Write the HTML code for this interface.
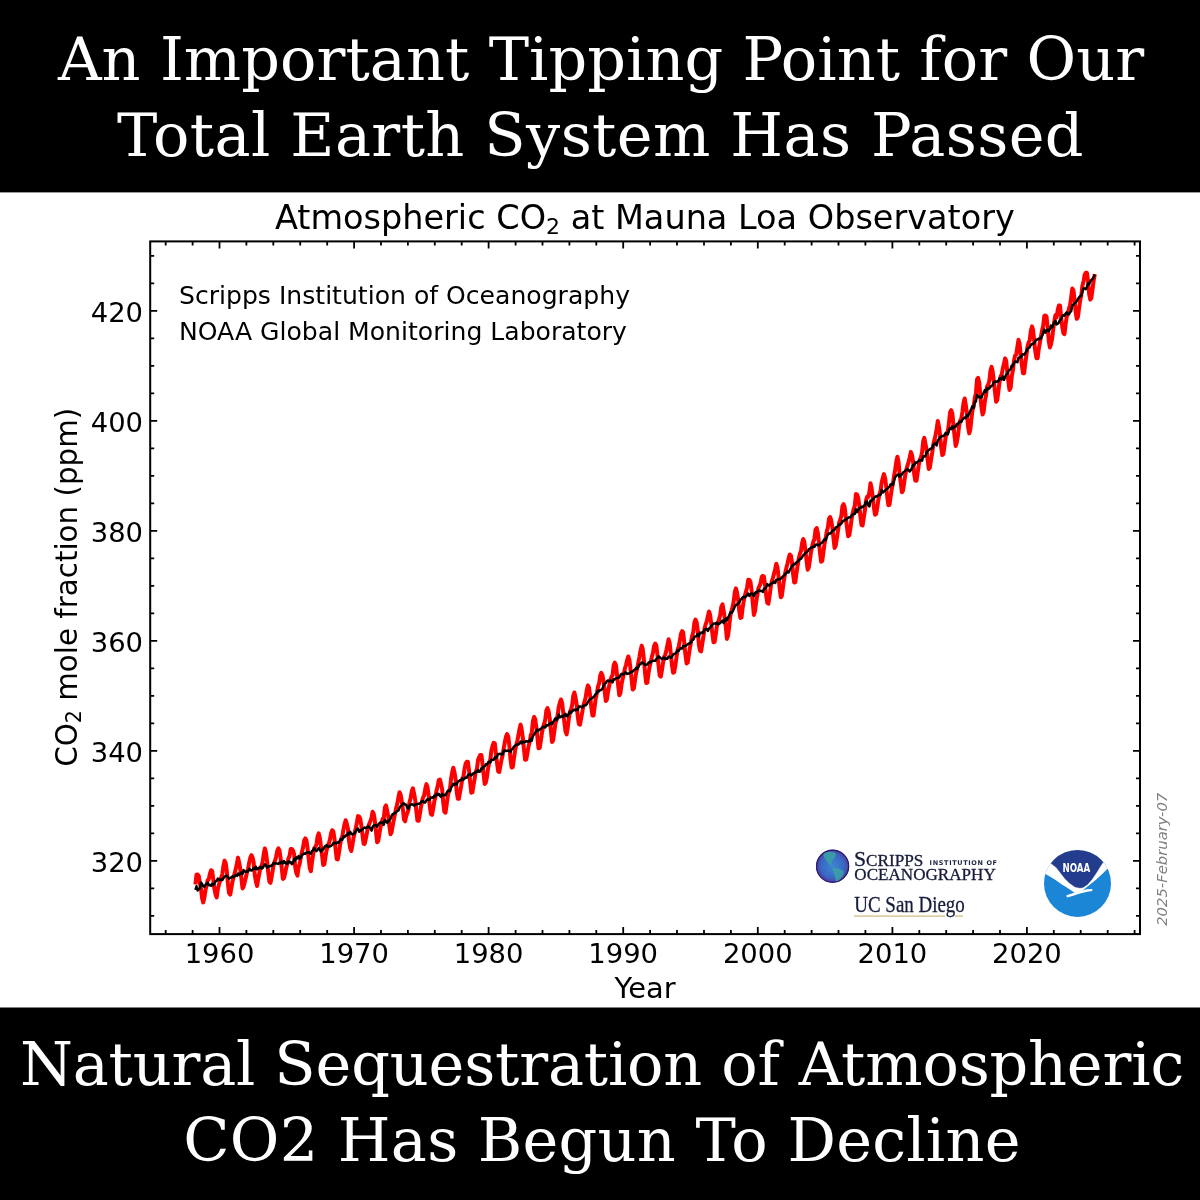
<!DOCTYPE html>
<html><head><meta charset="utf-8"><title>Atmospheric CO2 at Mauna Loa Observatory</title>
<style>html,body{margin:0;padding:0;width:1200px;height:1200px;overflow:hidden;background:#fff}svg{display:block}</style>
</head><body>
<svg width="1200" height="1200" viewBox="0 0 1200 1200">
<rect x="0" y="0" width="1200" height="1200" fill="#fff"/>
<rect x="0" y="0" width="1200" height="192.4" fill="#000"/>
<rect x="0" y="1007.5" width="1200" height="192.5" fill="#000"/>
<g font-family="'DejaVu Serif', serif" font-size="60.5" fill="#fff" text-anchor="middle">
<text x="601" y="79.7" letter-spacing="0.05">An Important Tipping Point for Our</text>
<text x="600.5" y="155.8" letter-spacing="0.38">Total Earth System Has Passed</text>
<text x="602" y="1084.7" letter-spacing="-0.18">Natural Sequestration of Atmospheric</text>
<text x="602" y="1161.2" letter-spacing="0.23">CO2 Has Begun To Decline</text>
</g>
<g font-family="'DejaVu Sans', sans-serif" fill="#000">
<text x="644.9" y="228.6" font-size="33.5" text-anchor="middle">Atmospheric CO<tspan font-size="22" dy="5">2</tspan><tspan dy="-5"> at Mauna Loa Observatory</tspan></text>
<g font-size="27.4" text-anchor="middle"><text x="219.5" y="962.5">1960</text><text x="354.1" y="962.5">1970</text><text x="488.6" y="962.5">1980</text><text x="623.2" y="962.5">1990</text><text x="757.8" y="962.5">2000</text><text x="892.4" y="962.5">2010</text><text x="1026.9" y="962.5">2020</text></g>
<g font-size="27.4" text-anchor="end"><text x="143" y="871.8">320</text><text x="143" y="761.8">340</text><text x="143" y="651.8">360</text><text x="143" y="541.8">380</text><text x="143" y="431.8">400</text><text x="143" y="321.8">420</text></g>
<text x="645" y="998.3" font-size="28.9" text-anchor="middle">Year</text>
<text transform="translate(76.7,766.8) rotate(-90)" font-size="29.36">CO<tspan font-size="20.6" dy="4.5">2</tspan><tspan dy="-4.5"> mole fraction (ppm)</tspan></text>
<g font-size="25.1"><text x="179" y="304.2">Scripps Institution of Oceanography</text><text x="179" y="339.8">NOAA Global Monitoring Laboratory</text></g>
<text transform="translate(1166.5,859.3) rotate(-90)" font-size="14.8" font-style="italic" fill="#808080" text-anchor="middle">2025-February-07</text>
</g>
<path d="M195.4,884.5 L196.5,874.8 L197.6,874.5 L198.8,876.0 L199.9,883.6 L201.0,888.7 L202.1,898.2 L203.2,902.4 L204.4,897.5 L205.5,890.1 L206.6,885.1 L207.7,880.2 L208.8,879.2 L210.0,873.3 L211.1,870.2 L212.2,871.0 L213.3,879.8 L214.5,889.4 L215.6,894.7 L216.7,897.5 L217.8,889.3 L218.9,885.1 L220.1,880.4 L221.2,877.4 L222.3,874.1 L223.4,866.1 L224.5,860.6 L225.7,863.1 L226.8,870.8 L227.9,883.4 L229.0,892.9 L230.2,894.7 L231.3,888.3 L232.4,881.8 L233.5,877.9 L234.6,873.5 L235.8,868.8 L236.9,863.7 L238.0,857.6 L239.1,862.1 L240.2,868.7 L241.4,878.5 L242.5,888.4 L243.6,886.6 L244.7,882.3 L245.9,877.3 L247.0,872.1 L248.1,868.8 L249.2,862.6 L250.3,857.7 L251.5,855.2 L252.6,857.4 L253.7,863.0 L254.8,875.1 L255.9,881.4 L257.1,886.0 L258.2,879.0 L259.3,873.5 L260.4,867.7 L261.6,865.9 L262.7,861.6 L263.8,853.2 L264.9,848.4 L266.0,852.7 L267.2,862.2 L268.3,873.1 L269.4,881.7 L270.5,882.9 L271.6,876.9 L272.8,869.9 L273.9,863.2 L275.0,860.7 L276.1,856.7 L277.3,850.7 L278.4,848.4 L279.5,850.4 L280.6,858.4 L281.7,868.0 L282.9,878.9 L284.0,878.0 L285.1,873.6 L286.2,867.9 L287.3,863.9 L288.5,858.4 L289.6,855.9 L290.7,849.0 L291.8,848.9 L293.0,850.5 L294.1,854.1 L295.2,867.0 L296.3,872.8 L297.4,875.6 L298.6,867.0 L299.7,864.0 L300.8,857.4 L301.9,852.0 L303.0,847.7 L304.2,840.4 L305.3,838.4 L306.4,840.2 L307.5,847.7 L308.7,858.8 L309.8,868.3 L310.9,871.2 L312.0,862.0 L313.1,855.1 L314.3,848.0 L315.4,847.1 L316.5,844.1 L317.6,836.5 L318.7,833.3 L319.9,838.3 L321.0,846.8 L322.1,855.7 L323.2,864.9 L324.4,864.2 L325.5,856.8 L326.6,850.0 L327.7,846.7 L328.8,843.5 L330.0,839.4 L331.1,833.2 L332.2,830.2 L333.3,831.3 L334.4,838.0 L335.6,849.2 L336.7,859.0 L337.8,859.4 L338.9,853.5 L340.1,844.9 L341.2,838.8 L342.3,836.5 L343.4,829.8 L344.5,824.2 L345.7,820.2 L346.8,823.9 L347.9,828.5 L349.0,840.7 L350.1,847.7 L351.3,851.0 L352.4,845.1 L353.5,838.1 L354.6,833.0 L355.8,827.9 L356.9,822.7 L358.0,816.1 L359.1,816.4 L360.2,818.6 L361.4,825.9 L362.5,835.0 L363.6,843.8 L364.7,843.9 L365.8,838.8 L367.0,832.6 L368.1,826.9 L369.2,824.1 L370.3,821.3 L371.5,818.0 L372.6,811.7 L373.7,813.7 L374.8,820.4 L375.9,830.8 L377.1,842.3 L378.2,841.2 L379.3,834.4 L380.4,827.7 L381.5,823.6 L382.7,818.8 L383.8,818.2 L384.9,807.3 L386.0,805.4 L387.2,810.8 L388.3,816.6 L389.4,826.0 L390.5,834.2 L391.6,832.2 L392.8,825.0 L393.9,819.3 L395.0,813.8 L396.1,808.2 L397.2,804.1 L398.4,797.5 L399.5,792.2 L400.6,794.4 L401.7,801.0 L402.9,809.6 L404.0,819.5 L405.1,821.3 L406.2,815.9 L407.3,813.3 L408.5,809.4 L409.6,801.9 L410.7,797.7 L411.8,791.2 L412.9,788.3 L414.1,793.7 L415.2,799.9 L416.3,810.5 L417.4,820.5 L418.6,820.8 L419.7,815.1 L420.8,808.1 L421.9,801.8 L423.0,797.8 L424.2,795.1 L425.3,788.7 L426.4,784.1 L427.5,787.0 L428.6,795.0 L429.8,806.1 L430.9,814.0 L432.0,814.8 L433.1,809.2 L434.3,801.5 L435.4,797.1 L436.5,790.7 L437.6,786.5 L438.7,780.3 L439.9,779.6 L441.0,783.8 L442.1,789.0 L443.2,802.1 L444.3,811.6 L445.5,812.7 L446.6,805.0 L447.7,796.9 L448.8,791.2 L450.0,788.6 L451.1,778.6 L452.2,772.1 L453.3,767.7 L454.4,771.9 L455.6,779.0 L456.7,791.7 L457.8,798.7 L458.9,798.8 L460.0,792.3 L461.2,786.0 L462.3,778.6 L463.4,776.9 L464.5,769.2 L465.7,763.5 L466.8,761.7 L467.9,761.8 L469.0,770.1 L470.1,781.5 L471.3,792.8 L472.4,792.3 L473.5,785.1 L474.6,778.8 L475.7,772.0 L476.9,769.0 L478.0,760.3 L479.1,757.3 L480.2,755.0 L481.4,754.9 L482.5,764.3 L483.6,774.3 L484.7,783.9 L485.8,782.5 L487.0,776.5 L488.1,768.3 L489.2,762.4 L490.3,759.9 L491.4,750.4 L492.6,745.7 L493.7,742.8 L494.8,743.3 L495.9,753.8 L497.1,763.6 L498.2,771.4 L499.3,772.0 L500.4,765.7 L501.5,760.2 L502.7,754.7 L503.8,747.8 L504.9,741.8 L506.0,736.5 L507.1,734.1 L508.3,736.8 L509.4,746.3 L510.5,759.2 L511.6,767.6 L512.8,767.0 L513.9,758.6 L515.0,751.3 L516.1,745.7 L517.2,741.1 L518.4,735.5 L519.5,729.0 L520.6,724.6 L521.7,729.5 L522.8,737.5 L524.0,749.5 L525.1,759.7 L526.2,759.5 L527.3,753.9 L528.5,746.5 L529.6,742.2 L530.7,735.5 L531.8,732.3 L532.9,721.1 L534.1,717.0 L535.2,719.1 L536.3,727.0 L537.4,737.0 L538.5,748.3 L539.7,747.9 L540.8,741.0 L541.9,733.2 L543.0,727.6 L544.2,723.7 L545.3,719.6 L546.4,710.3 L547.5,708.0 L548.6,711.4 L549.8,718.9 L550.9,730.2 L552.0,742.0 L553.1,740.6 L554.2,732.6 L555.4,723.3 L556.5,720.4 L557.6,715.2 L558.7,707.0 L559.8,702.9 L561.0,699.5 L562.1,702.9 L563.2,712.5 L564.3,721.6 L565.5,731.4 L566.6,734.4 L567.7,727.7 L568.8,718.7 L569.9,711.9 L571.1,709.5 L572.2,704.5 L573.3,695.7 L574.4,692.5 L575.5,697.4 L576.7,705.1 L577.8,717.0 L578.9,724.1 L580.0,724.7 L581.2,717.9 L582.3,712.0 L583.4,705.5 L584.5,701.6 L585.6,697.9 L586.8,689.9 L587.9,685.4 L589.0,687.7 L590.1,695.5 L591.2,706.2 L592.4,715.5 L593.5,715.4 L594.6,706.9 L595.7,698.7 L596.9,693.1 L598.0,686.6 L599.1,683.5 L600.2,675.7 L601.3,672.8 L602.5,675.6 L603.6,681.6 L604.7,691.3 L605.8,701.0 L606.9,699.5 L608.1,691.4 L609.2,685.9 L610.3,680.3 L611.4,677.2 L612.6,675.0 L613.7,665.0 L614.8,662.5 L615.9,665.2 L617.0,674.2 L618.2,685.8 L619.3,695.2 L620.4,693.2 L621.5,684.7 L622.6,679.2 L623.8,674.1 L624.9,668.5 L626.0,665.0 L627.1,660.1 L628.3,656.5 L629.4,659.8 L630.5,669.0 L631.6,679.6 L632.7,689.6 L633.9,688.4 L635.0,680.4 L636.1,672.7 L637.2,668.5 L638.3,662.7 L639.5,656.6 L640.6,650.1 L641.7,645.6 L642.8,649.3 L644.0,660.5 L645.1,673.3 L646.2,683.1 L647.3,682.8 L648.4,673.9 L649.6,666.9 L650.7,662.1 L651.8,657.1 L652.9,653.0 L654.0,646.2 L655.2,643.5 L656.3,645.3 L657.4,654.5 L658.5,665.3 L659.7,675.5 L660.8,676.6 L661.9,670.3 L663.0,663.2 L664.1,656.9 L665.3,654.6 L666.4,650.2 L667.5,644.6 L668.6,639.3 L669.7,643.1 L670.9,654.5 L672.0,665.5 L673.1,672.8 L674.2,672.2 L675.4,665.2 L676.5,657.3 L677.6,649.7 L678.7,646.6 L679.8,640.8 L681.0,633.7 L682.1,631.2 L683.2,632.4 L684.3,643.0 L685.4,654.6 L686.6,663.5 L687.7,662.7 L688.8,655.1 L689.9,648.1 L691.1,641.4 L692.2,635.6 L693.3,632.0 L694.4,622.4 L695.5,619.5 L696.7,622.5 L697.8,630.9 L698.9,645.2 L700.0,650.7 L701.1,651.4 L702.3,643.6 L703.4,636.9 L704.5,628.8 L705.6,624.6 L706.8,621.2 L707.9,616.2 L709.0,611.5 L710.1,614.8 L711.2,623.5 L712.4,633.7 L713.5,642.3 L714.6,641.9 L715.7,634.9 L716.8,626.6 L718.0,622.9 L719.1,619.1 L720.2,615.2 L721.3,606.8 L722.5,604.3 L723.6,610.3 L724.7,617.7 L725.8,627.1 L726.9,638.9 L728.1,635.6 L729.2,626.5 L730.3,616.3 L731.4,611.4 L732.5,607.0 L733.7,601.4 L734.8,592.3 L735.9,588.4 L737.0,592.3 L738.2,600.3 L739.3,611.3 L740.4,618.0 L741.5,617.5 L742.6,608.1 L743.8,600.5 L744.9,595.5 L746.0,591.5 L747.1,587.4 L748.2,579.7 L749.4,579.9 L750.5,581.9 L751.6,590.4 L752.7,602.4 L753.9,615.0 L755.0,611.3 L756.1,602.5 L757.2,596.0 L758.3,588.9 L759.5,585.8 L760.6,583.4 L761.7,577.0 L762.8,575.9 L763.9,576.5 L765.1,585.6 L766.2,595.8 L767.3,602.9 L768.4,603.7 L769.6,596.0 L770.7,587.4 L771.8,581.4 L772.9,578.0 L774.0,573.7 L775.2,568.9 L776.3,563.7 L777.4,567.1 L778.5,576.0 L779.6,588.1 L780.8,597.3 L781.9,595.6 L783.0,586.9 L784.1,579.3 L785.3,572.4 L786.4,567.8 L787.5,563.4 L788.6,558.4 L789.7,554.5 L790.9,555.5 L792.0,562.6 L793.1,574.2 L794.2,582.6 L795.3,582.1 L796.5,573.3 L797.6,565.9 L798.7,558.9 L799.8,554.1 L801.0,551.1 L802.1,543.0 L803.2,539.0 L804.3,541.8 L805.4,549.9 L806.6,560.7 L807.7,569.7 L808.8,567.5 L809.9,560.1 L811.0,552.1 L812.2,546.3 L813.3,541.6 L814.4,539.3 L815.5,529.9 L816.7,528.0 L817.8,532.7 L818.9,542.0 L820.0,552.8 L821.1,561.8 L822.3,560.7 L823.4,552.2 L824.5,543.8 L825.6,538.7 L826.7,531.7 L827.9,527.2 L829.0,518.8 L830.1,517.0 L831.2,520.2 L832.4,527.7 L833.5,538.2 L834.6,548.0 L835.7,545.6 L836.8,538.7 L838.0,530.8 L839.1,523.0 L840.2,519.7 L841.3,516.2 L842.4,506.3 L843.6,504.2 L844.7,507.5 L845.8,517.0 L846.9,526.7 L848.1,536.3 L849.2,535.3 L850.3,529.2 L851.4,520.8 L852.5,513.8 L853.7,509.0 L854.8,506.0 L855.9,494.1 L857.0,494.5 L858.1,497.4 L859.3,505.5 L860.4,516.4 L861.5,525.0 L862.6,525.5 L863.8,517.6 L864.9,510.4 L866.0,500.5 L867.1,496.8 L868.2,496.9 L869.4,492.0 L870.5,483.2 L871.6,488.2 L872.7,496.4 L873.8,506.6 L875.0,514.7 L876.1,514.1 L877.2,508.2 L878.3,500.2 L879.5,494.1 L880.6,490.6 L881.7,482.3 L882.8,478.1 L883.9,474.1 L885.1,478.0 L886.2,486.6 L887.3,497.2 L888.4,505.2 L889.5,504.8 L890.7,496.1 L891.8,488.9 L892.9,483.9 L894.0,476.3 L895.2,469.4 L896.3,461.8 L897.4,456.8 L898.5,461.8 L899.6,473.6 L900.8,483.2 L901.9,492.3 L903.0,490.6 L904.1,483.3 L905.2,475.5 L906.4,469.3 L907.5,465.4 L908.6,461.8 L909.7,457.5 L910.9,451.9 L912.0,454.9 L913.1,461.9 L914.2,474.1 L915.3,480.6 L916.5,480.7 L917.6,473.2 L918.7,465.4 L919.8,459.6 L920.9,457.5 L922.1,452.2 L923.2,441.2 L924.3,437.9 L925.4,443.3 L926.6,449.8 L927.7,460.5 L928.8,469.0 L929.9,467.5 L931.0,459.9 L932.2,452.6 L933.3,444.7 L934.4,439.9 L935.5,435.2 L936.6,429.4 L937.8,421.0 L938.9,426.1 L940.0,434.7 L941.1,446.8 L942.3,455.1 L943.4,454.1 L944.5,446.0 L945.6,437.2 L946.7,433.2 L947.9,430.9 L949.0,422.2 L950.1,412.2 L951.2,410.2 L952.3,413.2 L953.5,425.8 L954.6,436.6 L955.7,446.0 L956.8,442.5 L958.0,435.3 L959.1,426.1 L960.2,420.4 L961.3,418.8 L962.4,411.8 L963.6,402.3 L964.7,398.5 L965.8,404.9 L966.9,413.1 L968.0,426.2 L969.2,433.4 L970.3,429.7 L971.4,419.4 L972.5,410.1 L973.7,406.3 L974.8,397.7 L975.9,393.5 L977.0,379.4 L978.1,377.9 L979.3,382.8 L980.4,396.1 L981.5,407.8 L982.6,414.6 L983.7,411.6 L984.9,400.8 L986.0,395.9 L987.1,386.3 L988.2,384.7 L989.4,380.5 L990.5,370.5 L991.6,366.9 L992.7,371.4 L993.8,381.1 L995.0,392.0 L996.1,401.7 L997.2,400.3 L998.3,392.1 L999.4,382.8 L1000.6,376.5 L1001.7,374.5 L1002.8,368.5 L1003.9,363.9 L1005.1,358.4 L1006.2,360.9 L1007.3,372.3 L1008.4,381.8 L1009.5,389.9 L1010.7,387.5 L1011.8,376.1 L1012.9,370.4 L1014.0,360.6 L1015.1,355.6 L1016.3,354.4 L1017.4,346.9 L1018.5,339.7 L1019.6,343.6 L1020.8,355.6 L1021.9,365.5 L1023.0,373.2 L1024.1,373.3 L1025.2,363.7 L1026.4,355.5 L1027.5,346.6 L1028.6,342.6 L1029.7,340.4 L1030.8,331.1 L1032.0,326.4 L1033.1,330.1 L1034.2,341.0 L1035.3,351.2 L1036.5,358.2 L1037.6,358.2 L1038.7,349.4 L1039.8,343.1 L1040.9,336.9 L1042.1,330.3 L1043.2,325.7 L1044.3,315.9 L1045.4,315.5 L1046.5,316.5 L1047.7,327.4 L1048.8,341.1 L1049.9,347.5 L1051.0,344.1 L1052.2,338.1 L1053.3,328.8 L1054.4,320.8 L1055.5,314.9 L1056.6,317.4 L1057.8,309.6 L1058.9,305.4 L1060.0,305.4 L1061.1,316.9 L1062.2,326.3 L1063.4,333.2 L1064.5,334.1 L1065.6,324.6 L1066.7,316.7 L1067.9,313.5 L1069.0,308.4 L1070.1,305.2 L1071.2,297.0 L1072.3,288.6 L1073.5,290.4 L1074.6,300.6 L1075.7,312.4 L1076.8,318.8 L1077.9,317.1 L1079.1,308.1 L1080.2,300.4 L1081.3,295.4 L1082.4,285.8 L1083.6,281.2 L1084.7,274.7 L1085.8,272.8 L1086.9,272.8 L1088.0,280.3 L1089.2,294.4 L1090.3,299.6 L1091.4,297.7 L1092.5,289.6 L1093.6,281.1 L1094.8,274.2" fill="none" stroke="#ff0000" stroke-width="4" stroke-linejoin="round"/>
<path d="M195.4,889.9 L196.5,886.3 L197.6,890.4 L198.8,888.9 L199.9,888.4 L201.0,882.6 L202.1,884.1 L203.2,886.2 L204.4,886.8 L205.5,884.8 L206.6,884.1 L207.7,882.7 L208.8,885.2 L210.0,885.0 L211.1,885.8 L212.2,883.7 L213.3,885.0 L214.5,883.3 L215.6,880.9 L216.7,881.0 L217.8,878.6 L218.9,879.7 L220.1,879.5 L221.2,879.7 L222.3,880.0 L223.4,878.2 L224.5,876.7 L225.7,876.0 L226.8,875.8 L227.9,877.0 L229.0,878.6 L230.2,878.0 L231.3,877.3 L232.4,876.4 L233.5,877.4 L234.6,875.9 L235.8,875.0 L236.9,875.9 L238.0,873.5 L239.1,875.0 L240.2,873.6 L241.4,872.3 L242.5,873.9 L243.6,870.1 L244.7,871.3 L245.9,871.9 L247.0,871.5 L248.1,871.5 L249.2,868.7 L250.3,869.9 L251.5,870.6 L252.6,869.9 L253.7,868.0 L254.8,868.8 L255.9,866.7 L257.1,869.4 L258.2,868.4 L259.3,867.8 L260.4,866.9 L261.6,868.5 L262.7,868.0 L263.8,865.9 L264.9,864.2 L266.0,865.4 L267.2,867.6 L268.3,866.8 L269.4,866.4 L270.5,865.7 L271.6,866.0 L272.8,864.3 L273.9,862.9 L275.0,863.6 L276.1,863.4 L277.3,863.6 L278.4,863.9 L279.5,862.5 L280.6,863.1 L281.7,861.6 L282.9,863.5 L284.0,861.1 L285.1,863.0 L286.2,862.7 L287.3,863.8 L288.5,861.2 L289.6,862.5 L290.7,862.0 L291.8,864.1 L293.0,862.8 L294.1,858.9 L295.2,860.5 L296.3,857.3 L297.4,858.3 L298.6,856.1 L299.7,858.9 L300.8,857.6 L301.9,854.9 L303.0,854.3 L304.2,853.5 L305.3,853.8 L306.4,852.4 L307.5,852.6 L308.7,852.3 L309.8,852.6 L310.9,853.8 L312.0,851.0 L313.1,850.1 L314.3,848.1 L315.4,850.3 L316.5,851.1 L317.6,849.7 L318.7,848.1 L319.9,850.1 L321.0,851.6 L322.1,849.4 L323.2,849.4 L324.4,847.1 L325.5,846.0 L326.6,845.1 L327.7,846.7 L328.8,846.7 L330.0,846.3 L331.1,845.8 L332.2,845.0 L333.3,843.2 L334.4,843.0 L335.6,842.8 L336.7,843.4 L337.8,842.2 L338.9,842.8 L340.1,840.1 L341.2,839.0 L342.3,839.8 L343.4,836.4 L344.5,837.1 L345.7,835.5 L346.8,835.6 L347.9,832.9 L349.0,834.3 L350.1,831.7 L351.3,834.0 L352.4,834.4 L353.5,833.7 L354.6,833.3 L355.8,831.2 L356.9,829.1 L358.0,828.6 L359.1,831.7 L360.2,830.3 L361.4,830.5 L362.5,829.2 L363.6,828.2 L364.7,827.5 L365.8,828.1 L367.0,827.6 L368.1,826.2 L369.2,827.3 L370.3,827.9 L371.5,830.6 L372.6,827.2 L373.7,825.4 L374.8,825.4 L375.9,825.0 L377.1,826.7 L378.2,824.6 L379.3,823.3 L380.4,822.4 L381.5,822.9 L382.7,822.3 L383.8,824.8 L384.9,820.0 L386.0,821.1 L387.2,822.6 L388.3,821.4 L389.4,820.1 L390.5,818.7 L391.6,815.7 L392.8,814.0 L393.9,813.9 L395.0,813.0 L396.1,812.1 L397.2,811.0 L398.4,810.6 L399.5,807.8 L400.6,806.1 L401.7,805.6 L402.9,803.4 L404.0,803.4 L405.1,804.6 L406.2,804.8 L407.3,807.9 L408.5,808.6 L409.6,805.3 L410.7,804.7 L411.8,804.3 L412.9,804.5 L414.1,805.7 L415.2,804.8 L416.3,804.0 L417.4,804.2 L418.6,803.7 L419.7,803.8 L420.8,802.5 L421.9,801.0 L423.0,801.0 L424.2,802.6 L425.3,802.5 L426.4,800.4 L427.5,799.2 L428.6,799.9 L429.8,799.4 L430.9,797.6 L432.0,797.5 L433.1,797.8 L434.3,795.7 L435.4,796.3 L436.5,793.7 L437.6,794.8 L438.7,793.9 L439.9,795.8 L441.0,796.7 L442.1,794.0 L443.2,795.4 L444.3,795.0 L445.5,795.2 L446.6,793.2 L447.7,791.1 L448.8,790.5 L450.0,791.3 L451.1,787.5 L452.2,786.0 L453.3,783.8 L454.4,784.9 L455.6,783.5 L456.7,784.4 L457.8,781.7 L458.9,781.0 L460.0,780.3 L461.2,780.3 L462.3,778.4 L463.4,779.8 L464.5,778.5 L465.7,777.6 L466.8,777.8 L467.9,775.2 L469.0,774.5 L470.1,773.7 L471.3,775.5 L472.4,774.3 L473.5,773.2 L474.6,773.3 L475.7,771.7 L476.9,771.9 L478.0,770.0 L479.1,771.7 L480.2,771.5 L481.4,768.3 L482.5,768.8 L483.6,766.5 L484.7,766.3 L485.8,764.3 L487.0,764.5 L488.1,762.5 L489.2,761.7 L490.3,762.5 L491.4,759.5 L492.6,760.1 L493.7,759.7 L494.8,757.4 L495.9,758.4 L497.1,756.2 L498.2,753.9 L499.3,754.1 L500.4,753.7 L501.5,754.5 L502.7,754.2 L503.8,750.7 L504.9,750.5 L506.0,751.0 L507.1,750.7 L508.3,750.8 L509.4,750.8 L510.5,751.9 L511.6,749.5 L512.8,748.8 L513.9,746.6 L515.0,746.0 L516.1,744.9 L517.2,744.3 L518.4,744.4 L519.5,743.6 L520.6,741.5 L521.7,743.3 L522.8,741.7 L524.0,742.3 L525.1,741.9 L526.2,741.1 L527.3,741.6 L528.5,741.3 L529.6,741.5 L530.7,738.7 L531.8,740.7 L532.9,736.0 L534.1,734.5 L535.2,732.8 L536.3,731.3 L537.4,729.6 L538.5,730.7 L539.7,729.5 L540.8,728.8 L541.9,727.8 L543.0,726.9 L544.2,727.1 L545.3,727.4 L546.4,725.0 L547.5,725.6 L548.6,724.9 L549.8,723.4 L550.9,722.8 L552.0,724.2 L553.1,721.9 L554.2,720.4 L555.4,718.3 L556.5,719.9 L557.6,718.7 L558.7,714.4 L559.8,717.4 L561.0,716.8 L562.1,716.0 L563.2,717.1 L564.3,714.7 L565.5,713.9 L566.6,716.2 L567.7,716.0 L568.8,713.8 L569.9,711.5 L571.1,712.9 L572.2,711.3 L573.3,710.3 L574.4,709.5 L575.5,710.4 L576.7,709.4 L577.8,710.0 L578.9,706.5 L580.0,706.6 L581.2,706.7 L582.3,707.4 L583.4,705.6 L584.5,705.4 L585.6,705.3 L586.8,704.1 L587.9,702.1 L589.0,700.4 L590.1,699.4 L591.2,698.7 L592.4,697.7 L593.5,697.2 L594.6,695.8 L595.7,694.2 L596.9,693.0 L598.0,690.5 L599.1,691.3 L600.2,689.9 L601.3,689.9 L602.5,688.7 L603.6,685.4 L604.7,683.4 L605.8,683.1 L606.9,681.2 L608.1,680.4 L609.2,681.2 L610.3,680.4 L611.4,681.2 L612.6,682.3 L613.7,679.2 L614.8,679.4 L615.9,678.4 L617.0,678.1 L618.2,677.9 L619.3,677.3 L620.4,675.2 L621.5,673.9 L622.6,674.5 L623.8,674.2 L624.9,672.6 L626.0,672.4 L627.1,673.9 L628.3,673.5 L629.4,673.1 L630.5,672.6 L631.6,671.6 L632.7,671.5 L633.9,670.3 L635.0,669.4 L636.1,668.1 L637.2,668.9 L638.3,666.9 L639.5,664.4 L640.6,664.2 L641.7,662.5 L642.8,662.9 L644.0,663.9 L645.1,665.0 L646.2,664.8 L647.3,664.6 L648.4,662.9 L649.6,662.1 L650.7,662.4 L651.8,661.2 L652.9,660.8 L654.0,660.7 L655.2,660.8 L656.3,659.2 L657.4,658.0 L658.5,656.3 L659.7,657.2 L660.8,658.1 L661.9,659.0 L663.0,658.2 L664.1,657.4 L665.3,659.1 L666.4,658.4 L667.5,658.7 L668.6,656.6 L669.7,656.9 L670.9,657.8 L672.0,656.6 L673.1,654.7 L674.2,653.8 L675.4,653.6 L676.5,652.5 L677.6,650.2 L678.7,650.8 L679.8,648.8 L681.0,648.1 L682.1,648.6 L683.2,645.9 L684.3,646.3 L685.4,645.8 L686.6,645.1 L687.7,644.1 L688.8,643.5 L689.9,643.6 L691.1,642.2 L692.2,639.8 L693.3,639.8 L694.4,636.8 L695.5,636.6 L696.7,635.6 L697.8,634.1 L698.9,636.4 L700.0,632.6 L701.1,633.1 L702.3,632.3 L703.4,632.7 L704.5,629.8 L705.6,628.9 L706.8,629.1 L707.9,630.9 L709.0,628.5 L710.1,627.6 L711.2,626.5 L712.4,624.6 L713.5,623.6 L714.6,623.6 L715.7,623.9 L716.8,622.6 L718.0,624.3 L719.1,623.7 L720.2,623.1 L721.3,621.5 L722.5,620.6 L723.6,622.9 L724.7,620.8 L725.8,618.2 L726.9,620.4 L728.1,617.4 L729.2,615.7 L730.3,612.6 L731.4,612.8 L732.5,611.7 L733.7,609.2 L734.8,606.6 L735.9,604.8 L737.0,604.7 L738.2,603.4 L739.3,602.3 L740.4,599.4 L741.5,599.2 L742.6,597.5 L743.8,597.0 L744.9,597.2 L746.0,596.3 L747.1,595.3 L748.2,593.5 L749.4,595.9 L750.5,594.1 L751.6,593.5 L752.7,593.7 L753.9,596.3 L755.0,593.1 L756.1,592.0 L757.2,592.6 L758.3,590.4 L759.5,590.4 L760.6,591.1 L761.7,591.0 L762.8,591.9 L763.9,588.8 L765.1,588.8 L766.2,587.1 L767.3,584.1 L768.4,585.5 L769.6,585.4 L770.7,583.9 L771.8,583.1 L772.9,582.9 L774.0,581.4 L775.2,583.0 L776.3,579.7 L777.4,579.6 L778.5,579.2 L779.6,579.3 L780.8,578.7 L781.9,577.4 L783.0,576.3 L784.1,575.5 L785.3,573.9 L786.4,573.0 L787.5,571.3 L788.6,572.5 L789.7,570.3 L790.9,568.0 L792.0,565.9 L793.1,565.5 L794.2,563.7 L795.3,563.9 L796.5,562.3 L797.6,561.8 L798.7,560.4 L799.8,559.2 L801.0,558.8 L802.1,557.1 L803.2,555.2 L804.3,554.4 L805.4,553.0 L806.6,552.1 L807.7,551.3 L808.8,549.4 L809.9,548.7 L811.0,547.7 L812.2,547.6 L813.3,546.6 L814.4,546.9 L815.5,544.8 L816.7,544.5 L817.8,545.3 L818.9,545.3 L820.0,544.2 L821.1,543.2 L822.3,542.4 L823.4,540.7 L824.5,539.2 L825.6,540.2 L826.7,537.0 L827.9,534.4 L829.0,533.3 L830.1,533.7 L831.2,532.6 L832.4,531.0 L833.5,530.0 L834.6,529.8 L835.7,527.5 L836.8,527.1 L838.0,526.1 L839.1,524.3 L840.2,524.7 L841.3,523.7 L842.4,521.1 L843.6,521.2 L844.7,519.9 L845.8,520.0 L846.9,518.3 L848.1,518.1 L849.2,517.1 L850.3,517.4 L851.4,516.0 L852.5,514.6 L853.7,513.9 L854.8,514.0 L855.9,509.3 L857.0,512.1 L858.1,510.1 L859.3,508.2 L860.4,507.8 L861.5,506.7 L862.6,507.3 L863.8,505.8 L864.9,505.5 L866.0,501.4 L867.1,501.6 L868.2,505.0 L869.4,506.4 L870.5,500.5 L871.6,500.9 L872.7,499.5 L873.8,498.2 L875.0,496.9 L876.1,496.2 L877.2,496.5 L878.3,495.3 L879.5,495.1 L880.6,494.8 L881.7,489.9 L882.8,492.5 L883.9,491.6 L885.1,490.5 L886.2,489.7 L887.3,488.7 L888.4,487.4 L889.5,486.8 L890.7,484.4 L891.8,483.9 L892.9,484.8 L894.0,480.6 L895.2,477.2 L896.3,475.8 L897.4,474.8 L898.5,474.4 L899.6,476.9 L900.8,474.6 L901.9,474.6 L903.0,472.5 L904.1,471.8 L905.2,470.8 L906.4,470.0 L907.5,469.1 L908.6,470.0 L909.7,471.5 L910.9,470.2 L912.0,467.9 L913.1,464.9 L914.2,465.2 L915.3,462.5 L916.5,462.8 L917.6,461.7 L918.7,460.9 L919.8,460.0 L920.9,460.6 L922.1,460.6 L923.2,456.2 L924.3,456.4 L925.4,456.2 L926.6,452.6 L927.7,450.9 L928.8,450.2 L929.9,449.2 L931.0,448.6 L932.2,448.4 L933.3,444.8 L934.4,443.4 L935.5,443.4 L936.6,445.4 L937.8,440.1 L938.9,439.4 L940.0,437.1 L941.1,436.7 L942.3,435.9 L943.4,435.9 L944.5,435.1 L945.6,433.1 L946.7,434.1 L947.9,434.3 L949.0,429.9 L950.1,428.1 L951.2,429.1 L952.3,426.3 L953.5,428.4 L954.6,426.4 L955.7,426.7 L956.8,424.1 L958.0,424.3 L959.1,422.1 L960.2,421.5 L961.3,422.0 L962.4,419.7 L963.6,418.4 L964.7,417.5 L965.8,418.2 L966.9,415.2 L968.0,415.8 L969.2,413.5 L970.3,411.1 L971.4,408.7 L972.5,406.1 L973.7,407.7 L974.8,401.8 L975.9,401.6 L977.0,395.1 L978.1,397.0 L979.3,396.5 L980.4,397.8 L981.5,397.2 L982.6,394.6 L983.7,392.6 L984.9,390.1 L986.0,391.9 L987.1,388.1 L988.2,389.0 L989.4,388.4 L990.5,386.6 L991.6,385.9 L992.7,385.1 L993.8,382.5 L995.0,381.3 L996.1,381.9 L997.2,381.3 L998.3,381.4 L999.4,378.5 L1000.6,378.3 L1001.7,379.3 L1002.8,376.4 L1003.9,379.9 L1005.1,377.0 L1006.2,374.5 L1007.3,373.9 L1008.4,370.8 L1009.5,370.2 L1010.7,368.7 L1011.8,365.5 L1012.9,366.1 L1014.0,362.8 L1015.1,361.4 L1016.3,361.8 L1017.4,362.2 L1018.5,357.7 L1019.6,357.6 L1020.8,357.1 L1021.9,355.1 L1023.0,354.3 L1024.1,354.7 L1025.2,353.2 L1026.4,351.4 L1027.5,348.7 L1028.6,347.9 L1029.7,347.3 L1030.8,345.0 L1032.0,344.0 L1033.1,344.1 L1034.2,343.0 L1035.3,341.3 L1036.5,339.6 L1037.6,339.6 L1038.7,338.6 L1039.8,339.0 L1040.9,338.3 L1042.1,336.0 L1043.2,333.0 L1044.3,329.6 L1045.4,332.6 L1046.5,330.6 L1047.7,329.6 L1048.8,331.0 L1049.9,329.2 L1051.0,325.6 L1052.2,327.5 L1053.3,324.4 L1054.4,322.1 L1055.5,320.9 L1056.6,324.4 L1057.8,323.6 L1058.9,322.6 L1060.0,319.7 L1061.1,319.4 L1062.2,316.4 L1063.4,315.1 L1064.5,315.7 L1065.6,313.6 L1066.7,312.4 L1067.9,314.3 L1069.0,314.2 L1070.1,312.2 L1071.2,311.1 L1072.3,305.4 L1073.5,304.6 L1074.6,303.3 L1075.7,302.4 L1076.8,300.9 L1077.9,299.1 L1079.1,297.3 L1080.2,296.2 L1081.3,295.5 L1082.4,291.5 L1083.6,288.2 L1084.7,288.5 L1085.8,289.1 L1086.9,287.1 L1088.0,283.3 L1089.2,284.1 L1090.3,281.6 L1091.4,279.9 L1092.5,278.8 L1093.6,277.4 L1094.8,274.6" fill="none" stroke="#000" stroke-width="2.5" stroke-linejoin="round"/>
<rect x="150.2" y="241.4" width="989.8" height="692.7" fill="none" stroke="#000" stroke-width="2"/>
<path d="M165.7,934.1V930.1M165.7,241.4V245.4M192.6,934.1V930.1M192.6,241.4V245.4M219.5,934.1V927.1M219.5,241.4V248.4M246.4,934.1V930.1M246.4,241.4V245.4M273.3,934.1V930.1M273.3,241.4V245.4M300.2,934.1V930.1M300.2,241.4V245.4M327.2,934.1V930.1M327.2,241.4V245.4M354.1,934.1V927.1M354.1,241.4V248.4M381.0,934.1V930.1M381.0,241.4V245.4M407.9,934.1V930.1M407.9,241.4V245.4M434.8,934.1V930.1M434.8,241.4V245.4M461.7,934.1V930.1M461.7,241.4V245.4M488.6,934.1V927.1M488.6,241.4V248.4M515.6,934.1V930.1M515.6,241.4V245.4M542.5,934.1V930.1M542.5,241.4V245.4M569.4,934.1V930.1M569.4,241.4V245.4M596.3,934.1V930.1M596.3,241.4V245.4M623.2,934.1V927.1M623.2,241.4V248.4M650.1,934.1V930.1M650.1,241.4V245.4M677.0,934.1V930.1M677.0,241.4V245.4M704.0,934.1V930.1M704.0,241.4V245.4M730.9,934.1V930.1M730.9,241.4V245.4M757.8,934.1V927.1M757.8,241.4V248.4M784.7,934.1V930.1M784.7,241.4V245.4M811.6,934.1V930.1M811.6,241.4V245.4M838.5,934.1V930.1M838.5,241.4V245.4M865.4,934.1V930.1M865.4,241.4V245.4M892.4,934.1V927.1M892.4,241.4V248.4M919.3,934.1V930.1M919.3,241.4V245.4M946.2,934.1V930.1M946.2,241.4V245.4M973.1,934.1V930.1M973.1,241.4V245.4M1000.0,934.1V930.1M1000.0,241.4V245.4M1026.9,934.1V927.1M1026.9,241.4V248.4M1053.8,934.1V930.1M1053.8,241.4V245.4M1080.7,934.1V930.1M1080.7,241.4V245.4M1107.7,934.1V930.1M1107.7,241.4V245.4M1134.6,934.1V930.1M1134.6,241.4V245.4M150.2,915.8H154.2M1140.0,915.8H1136.0M150.2,888.3H154.2M1140.0,888.3H1136.0M150.2,860.8H157.2M1140.0,860.8H1133.0M150.2,833.3H154.2M1140.0,833.3H1136.0M150.2,805.8H154.2M1140.0,805.8H1136.0M150.2,778.3H154.2M1140.0,778.3H1136.0M150.2,750.8H157.2M1140.0,750.8H1133.0M150.2,723.3H154.2M1140.0,723.3H1136.0M150.2,695.8H154.2M1140.0,695.8H1136.0M150.2,668.3H154.2M1140.0,668.3H1136.0M150.2,640.8H157.2M1140.0,640.8H1133.0M150.2,613.3H154.2M1140.0,613.3H1136.0M150.2,585.8H154.2M1140.0,585.8H1136.0M150.2,558.3H154.2M1140.0,558.3H1136.0M150.2,530.8H157.2M1140.0,530.8H1133.0M150.2,503.3H154.2M1140.0,503.3H1136.0M150.2,475.8H154.2M1140.0,475.8H1136.0M150.2,448.3H154.2M1140.0,448.3H1136.0M150.2,420.8H157.2M1140.0,420.8H1133.0M150.2,393.3H154.2M1140.0,393.3H1136.0M150.2,365.8H154.2M1140.0,365.8H1136.0M150.2,338.3H154.2M1140.0,338.3H1136.0M150.2,310.8H157.2M1140.0,310.8H1133.0M150.2,283.3H154.2M1140.0,283.3H1136.0M150.2,255.8H154.2M1140.0,255.8H1136.0" stroke="#000" stroke-width="1.8" fill="none"/>
<defs>
<radialGradient id="gl" cx="0.5" cy="0.5" r="0.5">
<stop offset="0" stop-color="#3d86d2"/><stop offset="0.7" stop-color="#3868c4"/><stop offset="0.92" stop-color="#4a48a8"/><stop offset="1" stop-color="#2c1f78"/>
</radialGradient>
<clipPath id="gc"><circle cx="832.6" cy="866.2" r="16.2"/></clipPath>
<clipPath id="nc"><circle cx="1077.5" cy="883.4" r="33.5"/></clipPath>
</defs>
<circle cx="832.6" cy="866.2" r="16.4" fill="url(#gl)"/>
<g clip-path="url(#gc)" fill="#3aa3a4" opacity="0.85">
<path d="M823.5,853.5 C826,851.5 831,851 835.5,853 C836.5,855 835,858 833,860 C831.5,861.5 831,863.5 832,866 C829.5,865 827.5,862.5 826,860 C824.5,858 823,856 823.5,853.5Z"/>
<path d="M832.5,868 C836,867.5 840.5,868.5 843.5,871 C844.5,873 843,876 840.5,878.5 C839,880 837.5,881.5 836,882 C835.5,878.5 834.5,875 833.5,872.5 C832.8,870.8 832.2,869.3 832.5,868Z"/>
</g>
<circle cx="832.6" cy="866.2" r="16.1" fill="none" stroke="#2a1c6e" stroke-width="1.2"/>
<g fill="#161c3a" font-family="'Liberation Serif', serif" stroke="#161c3a" stroke-width="0.3">
<text transform="translate(854,865.6) scale(1.06,1)"><tspan font-size="20.5">S</tspan><tspan font-size="16.2">CRIPPS</tspan></text>
<text transform="translate(854.3,880.4) scale(1.024,1)" font-size="16.7">OCEANOGRAPHY</text>
<text transform="translate(854.3,912.3) scale(0.79,1)" font-size="24">UC San Diego</text>
</g>
<text x="929.6" y="864.8" font-family="'DejaVu Sans', sans-serif" font-weight="bold" font-size="6.5" fill="#1d2444" letter-spacing="0.64">INSTITUTION OF</text>
<path d="M854,916.2 H945 M955,916.2 H963" stroke="#dccfa6" stroke-width="1.8"/>
<circle cx="1077.5" cy="883.4" r="33.5" fill="#1b86d6"/>
<g clip-path="url(#nc)">
<path d="M1040,840 L1040,873.6 L1045,873.75 L1049.4,876.25 L1055.6,880 L1061.9,884.4 L1066.9,887.5 L1071.25,890.4 L1074.5,892.7 L1078.75,893.2 L1082.5,890.8 L1085,888.6 L1090,884.6 L1096.25,879.4 L1102.5,873.75 L1107.5,868.75 L1115,863 L1115,840Z" fill="#fff"/>
<path d="M1040,840 L1040,863.1 L1050.6,863.1 L1056.25,867.5 L1060.6,873.1 L1065,878.75 L1069.4,883.1 L1075,886.9 L1080,888.1 L1083.1,887.5 L1087.5,884.4 L1091.9,879.4 L1096.25,873.1 L1100,866.9 L1103.1,862.3 L1115,862 L1115,840Z" fill="#243c8e" stroke="#243c8e" stroke-width="0.3" stroke-linejoin="round"/>
<path d="M1066.4,895.2 L1071.25,893.7 L1075.6,892.2 L1080,891.3 L1086.25,889.3 L1092.3,888.9 L1092.3,891 L1087.5,891.7 L1080,893.6 L1072.5,896 L1066.9,897.4Z" fill="#fff"/>
</g>
<text x="1062.4" y="871.9" font-family="'DejaVu Sans', sans-serif" font-weight="bold" font-size="12.2" fill="#fff" textLength="27.8" lengthAdjust="spacingAndGlyphs">NOAA</text>

</svg>
</body></html>
